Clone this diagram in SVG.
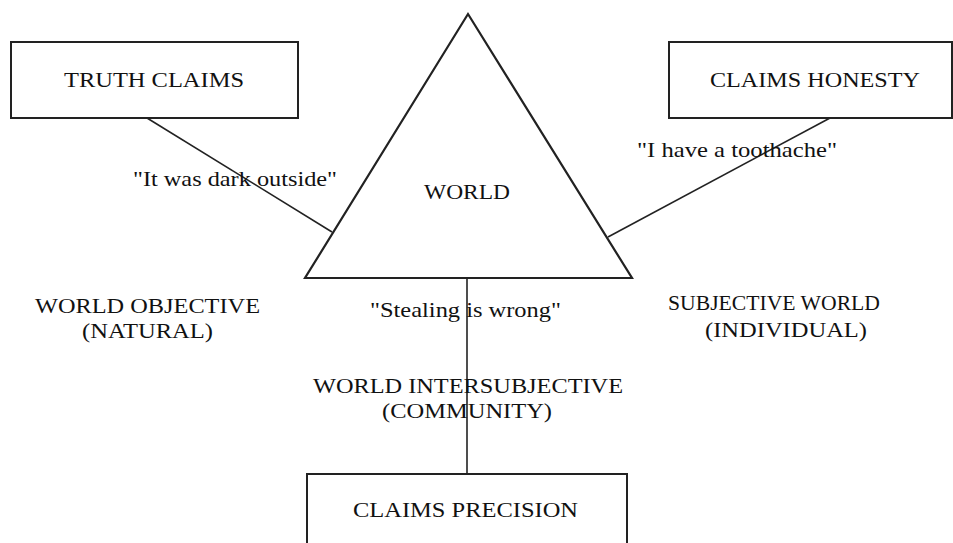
<svg xmlns="http://www.w3.org/2000/svg" width="953" height="543" viewBox="0 0 953 543">
<style>
  .box { fill: #fff; stroke: #222; stroke-width: 2; }
  .tri { fill: #fff; stroke: #222; stroke-width: 2.2; stroke-linejoin: miter; }
  .conn { stroke: #222; stroke-width: 1.6; fill: none; }
  text { font-family: "Liberation Serif", "Times New Roman", serif; font-size: 22px; fill: #111; }
</style>
<rect width="953" height="543" fill="#fff"/>
<g id="world">
  <polygon class="tri" points="468,14 305,278 632,278"/>
  <text x="424" y="199" textLength="86" lengthAdjust="spacingAndGlyphs">WORLD</text>
</g>
<g id="truth-claims">
  <rect class="box" x="11" y="42" width="287" height="76"/>
  <text x="64" y="87" textLength="180" lengthAdjust="spacingAndGlyphs">TRUTH CLAIMS</text>
</g>
<g id="claims-honesty">
  <rect class="box" x="669" y="42" width="283" height="76"/>
  <text x="710" y="87" textLength="210" lengthAdjust="spacingAndGlyphs">CLAIMS HONESTY</text>
</g>
<g id="claims-precision">
  <rect class="box" x="307" y="474" width="320" height="80"/>
  <text x="353" y="517" textLength="225" lengthAdjust="spacingAndGlyphs">CLAIMS PRECISION</text>
</g>
<g id="connectors">
  <line class="conn" x1="147" y1="118" x2="332" y2="232"/>
  <line class="conn" x1="830" y1="118" x2="608" y2="237"/>
  <line class="conn" x1="467" y1="277" x2="467" y2="474"/>
</g>
<g id="labels">
  <text x="133" y="186" textLength="204" lengthAdjust="spacingAndGlyphs">"It was dark outside"</text>
  <text x="637" y="157" textLength="200" lengthAdjust="spacingAndGlyphs">"I have a toothache"</text>
  <text x="370" y="317" textLength="191" lengthAdjust="spacingAndGlyphs">"Stealing is wrong"</text>
  <text x="35" y="313" textLength="225" lengthAdjust="spacingAndGlyphs">WORLD OBJECTIVE</text>
  <text x="82" y="338" textLength="131" lengthAdjust="spacingAndGlyphs">(NATURAL)</text>
  <text x="668" y="310" textLength="212" lengthAdjust="spacingAndGlyphs">SUBJECTIVE WORLD</text>
  <text x="705" y="337" textLength="162" lengthAdjust="spacingAndGlyphs">(INDIVIDUAL)</text>
  <text x="313" y="393" textLength="310" lengthAdjust="spacingAndGlyphs">WORLD INTERSUBJECTIVE</text>
  <text x="382" y="418" textLength="170" lengthAdjust="spacingAndGlyphs">(COMMUNITY)</text>
</g>
</svg>
